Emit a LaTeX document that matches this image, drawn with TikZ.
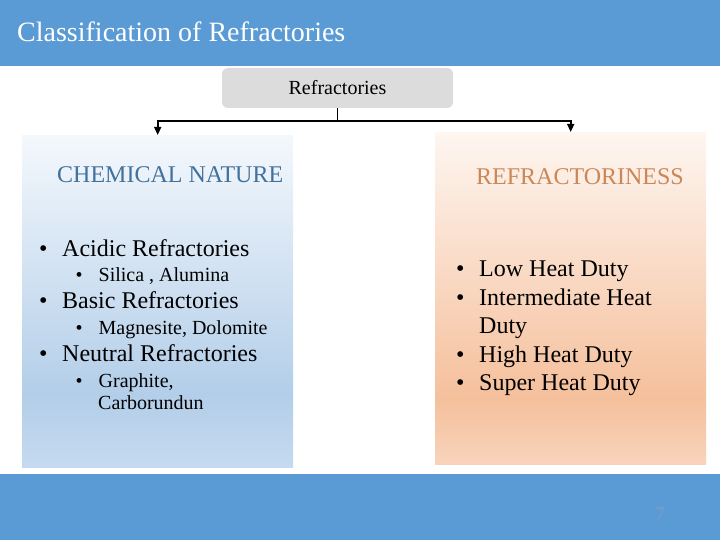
\documentclass[tikz,border=0pt]{standalone}
\usepackage{fontspec}
\setmainfont{Liberation Serif}
\usetikzlibrary{arrows.meta, positioning}
\definecolor{cbar}{HTML}{5B9BD5}
\definecolor{cbox}{HTML}{DCDCDC}
\definecolor{cbluetxt}{HTML}{41719C}
\definecolor{corangetxt}{HTML}{CB8756}
\definecolor{cpage}{HTML}{7F9DC4}
\definecolor{cbluetop}{HTML}{F4F8FC}
\definecolor{cbluemid}{HTML}{B3CEE9}
\definecolor{cbluebot}{HTML}{C5DAEF}
\definecolor{corgtop}{HTML}{FEF6F1}
\definecolor{corgmid}{HTML}{F5C09C}
\definecolor{corgbot}{HTML}{F8D3BB}
\pgfdeclareverticalshading{chemshade}{100bp}{color(0bp)=(cbluebot); color(25bp)=(cbluebot);
  color(36bp)=(cbluemid); color(75bp)=(cbluetop); color(100bp)=(cbluetop)}
\pgfdeclareverticalshading{heatshade}{100bp}{color(0bp)=(corgbot); color(25bp)=(corgbot);
  color(35bp)=(corgmid); color(75bp)=(corgtop); color(100bp)=(corgtop)}
\newcommand{\bul}{\makebox[23pt][l]{\textbullet}}
\tikzset{
  every picture/.style={x=1pt, y=-1pt},
  rootbox/.style={fill=cbox, rounded corners=6pt, minimum width=231pt, minimum height=40pt,
    font=\fontsize{20}{24}\selectfont},
  panel/.style={shading=#1, minimum width=271pt, minimum height=332pt, anchor=north west, inner sep=0pt},
  arrow/.style={-{Triangle[length=8pt, width=7pt]}, line width=1.6pt, black},
  head/.style={font=\fontsize{24}{28}\selectfont, text=#1, anchor=base west, inner sep=0pt},
  item/.style={font=\fontsize{24}{28}\selectfont, anchor=base west, inner sep=0pt},
  subitem/.style={font=\fontsize{20}{24}\selectfont, anchor=base west, inner sep=0pt},
}

\begin{document}
\begin{tikzpicture}
  \useasboundingbox (0,0) rectangle (720,540);
  % header and footer bars
  \fill[cbar] (0,0) rectangle (720,66);
  \fill[cbar] (0,474) rectangle (720,540);
  \node[font=\fontsize{28}{32}\selectfont, text=white, anchor=base west, inner sep=0pt] (title) at (17,42)
    {Classification of Refractories};
  \node[font=\fontsize{18}{20}\selectfont, text=cpage, inner sep=0pt] (page) at (660,514) {7};

  \node[rootbox] (refr) at (337.5,88) {Refractories};
  \node[panel=chemshade] (chem) at (22,135) {};
  \node[panel=heatshade] (heat) at (435,132) {};
  \draw[arrow] (refr.south) -- ++(0,13) -| (chem.north);
  \draw[arrow] (refr.south) -- ++(0,13) -| (heat.north);

  % chemical nature
  \node[head=cbluetxt] (chemhead) at (57,183) {CHEMICAL NATURE};
  \node[item] (acid) at (39,256) {\bul Acidic Refractories};
  \node[subitem] (acidex) at (75.5,281) {\bul Silica , Alumina};
  \node[item] (basic) at (39,308) {\bul Basic Refractories};
  \node[subitem] (basicex) at (75.5,334) {\bul Magnesite, Dolomite};
  \node[item] (neutral) at (39,361) {\bul Neutral Refractories};
  \node[subitem] (neutralex) at (75.5,387) {\bul Graphite,};
  \node[subitem] (neutralex2) at (98,409.5) {Carborundun};

  % refractoriness
  \node[head=corangetxt] (heathead) at (476,185) {REFRACTORINESS};
  \node[item] (low) at (456,276) {\bul Low Heat Duty};
  \node[item] (mid) at (456,305) {\bul Intermediate Heat};
  \node[item] (mid2) at (479,333) {Duty};
  \node[item] (high) at (456,362) {\bul High Heat Duty};
  \node[item] (super) at (456,390) {\bul Super Heat Duty};
\end{tikzpicture}
\end{document}
